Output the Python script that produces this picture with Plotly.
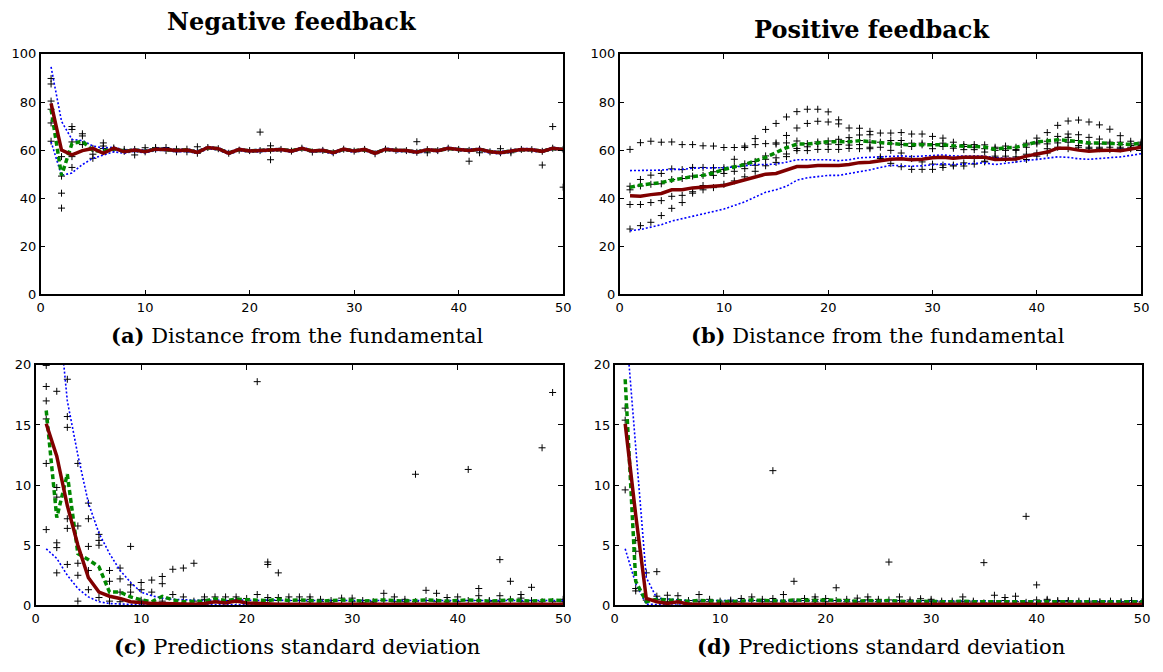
import plotly.graph_objects as go

W, H = 1163, 672
steps = list(range(1, 51))

# ---------------- (a) negative feedback: distance from the fundamental ----------------
mean_a = [79.4, 60.0, 58.0, 59.8, 60.7, 58.7, 60.8, 59.3, 60.0, 59.3,
          60.4, 60.3, 59.8, 60.0, 59.1, 61.1, 60.6, 58.7, 60.3, 59.6,
          59.8, 60.2, 60.3, 59.6, 60.8, 59.6, 59.9, 58.9, 60.4, 59.6,
          60.3, 58.7, 60.4, 59.9, 59.8, 59.1, 60.2, 59.8, 60.8, 60.3,
          59.9, 60.4, 59.3, 58.9, 59.6, 60.3, 60.2, 59.5, 60.8, 60.3]
median_a = [77.0, 49.5, 62.7, 63.7, 59.8, 59.5, 60.6, 59.5, 60.1, 59.4,
            60.5, 60.2, 59.9, 60.1, 59.2, 61.0, 60.6, 58.8, 60.2, 59.7,
            59.9, 60.1, 60.3, 59.7, 60.7, 59.7, 59.9, 59.0, 60.3, 59.7,
            60.2, 58.8, 60.3, 59.9, 59.8, 59.2, 60.1, 59.8, 60.7, 60.3,
            59.9, 60.3, 59.4, 59.0, 59.6, 60.2, 60.2, 59.5, 60.7, 60.3]
upper_a = [94.6, 72.0, 64.4, 64.0, 61.7, 60.9, 61.2, 60.0, 60.5, 60.0,
           60.9, 60.8, 60.3, 60.5, 59.7, 61.5, 61.0, 59.3, 60.7, 60.1,
           60.3, 60.6, 60.7, 60.0, 61.2, 60.0, 60.3, 59.4, 60.8, 60.0,
           60.7, 59.2, 60.8, 60.3, 60.2, 59.6, 60.6, 60.2, 61.2, 60.7,
           60.4, 60.8, 59.8, 59.4, 60.0, 60.7, 60.6, 59.9, 61.2, 60.7]
lower_a = [63.5, 49.5, 50.5, 54.0, 56.6, 58.0, 59.3, 58.7, 59.5, 58.8,
           59.9, 59.8, 59.3, 59.5, 58.6, 60.6, 60.1, 58.2, 59.8, 59.1,
           59.3, 59.7, 59.8, 59.1, 60.3, 59.1, 59.4, 58.4, 59.9, 59.1,
           59.8, 58.2, 59.9, 59.4, 59.3, 58.6, 59.7, 59.3, 60.3, 59.8,
           59.4, 59.9, 58.8, 58.4, 59.1, 59.8, 59.7, 59.0, 60.3, 59.8]
runs_a = [[89.8, 87.5, 80.4, 77.0, 71.3, 63.7], [57.3, 49.2, 42.1, 35.9],
          [69.8, 68.6, 63.4, 57.3, 52.8], [66.8, 65.9, 62.3], [60.7, 58.3, 56.6],
          [63.0, 61.7, 60.7], [60.9, 60.4], [60.3, 59.5], [60.3, 58.0], [61.0, 59.3],
          [61.1, 60.4], [61.1, 59.8], [60.4, 59.3], [60.4, 59.3], [61.4, 58.7],
          [61.1], [60.6], [58.7], [60.0], [59.8],
          [67.5, 59.8], [61.8, 60.0, 56.0], [60.3], [59.6], [60.8],
          [59.2], [59.9], [58.9], [60.4], [59.6],
          [60.3], [58.5], [60.4], [59.9], [59.8],
          [63.5, 59.1], [58.9, 60.2], [59.8], [60.8], [60.3],
          [55.4, 59.9], [58.9, 60.4], [59.3], [60.6, 58.9], [58.9, 59.6],
          [60.3], [60.2], [53.8, 59.5], [69.8, 60.8], [60.3, 44.6]]

# ---------------- (b) positive feedback: distance from the fundamental ----------------
mean_b = [41.0, 40.8, 41.5, 42.0, 43.5, 43.5, 44.3, 44.5, 45.0, 45.3,
          46.5, 47.5, 49.0, 50.0, 50.3, 51.8, 53.2, 53.2, 53.6, 53.6,
          53.6, 54.0, 54.8, 55.0, 55.6, 56.2, 56.4, 56.0, 56.2, 56.8,
          57.0, 56.6, 57.0, 57.0, 57.0, 56.1, 56.3, 56.3, 57.5, 58.5,
          59.2, 60.8, 60.8, 60.0, 59.5, 59.8, 60.0, 59.7, 60.3, 61.2]
median_b = [44.5, 45.5, 46.0, 46.5, 47.5, 48.3, 49.0, 49.5, 50.5, 52.0,
            53.0, 54.0, 55.5, 57.0, 59.0, 61.0, 62.5, 62.5, 63.0, 63.5,
            63.5, 63.5, 63.9, 63.5, 63.0, 62.5, 62.4, 62.2, 62.2, 62.3,
            62.2, 61.8, 61.8, 61.5, 61.3, 60.3, 61.0, 61.2, 62.2, 63.4,
            63.8, 64.3, 64.0, 63.6, 63.0, 63.0, 62.9, 62.6, 62.4, 62.9]
upper_b = [51.5, 51.5, 51.5, 51.7, 52.0, 52.0, 52.5, 52.5, 52.7, 52.7,
           53.0, 53.5, 54.0, 54.0, 54.2, 55.0, 56.0, 56.0, 56.0, 56.0,
           55.6, 56.0, 56.8, 57.0, 57.5, 57.7, 57.6, 57.3, 57.5, 57.5,
           58.0, 57.6, 57.5, 57.5, 57.5, 56.8, 56.7, 56.6, 57.5, 58.3,
           59.5, 60.8, 60.6, 60.0, 59.7, 59.8, 60.0, 60.0, 60.5, 61.0]
lower_b = [26.5, 27.0, 28.0, 29.0, 30.5, 31.5, 32.5, 33.5, 34.5, 35.5,
           37.0, 38.5, 40.5, 42.5, 43.5, 45.0, 47.5, 48.5, 49.0, 49.5,
           49.5, 50.3, 50.8, 51.8, 52.8, 53.7, 53.5, 53.3, 53.5, 53.8,
           54.3, 54.0, 54.3, 54.5, 54.7, 54.0, 54.5, 55.0, 55.6, 56.1,
           56.6, 57.2, 57.0, 56.4, 56.2, 56.5, 56.8, 57.2, 57.8, 58.5]
runs_b = [[60.3, 45.0, 43.5, 37.4, 27.2], [63.1, 47.8, 45.1, 37.4, 28.6],
          [63.7, 49.6, 45.8, 38.2, 30.0], [63.3, 50.3, 46.0, 39.0, 32.8],
          [63.4, 52.2, 47.8, 40.8, 35.8], [62.3, 51.9, 48.2, 41.2, 38.2],
          [62.3, 52.8, 49.2, 42.7, 42.1], [61.8, 52.8, 49.5, 45.3, 43.5],
          [61.7, 52.7, 51.0, 49.5, 44.4], [61.1, 52.7, 51.9, 50.3, 45.8],
          [61.1, 56.2, 53.3, 51.2, 47.2], [61.7, 61.1, 54.3, 52.3, 48.9],
          [64.8, 62.3, 55.3, 53.7, 51.2], [68.6, 62.7, 57.6, 56.2, 53.5],
          [71.1, 63.0, 62.5, 56.8, 54.9], [73.8, 66.1, 63.0, 58.4, 57.3],
          [76.0, 69.2, 63.8, 60.7, 59.8], [77.0, 71.1, 62.7, 61.4, 59.8],
          [77.0, 72.0, 63.4, 62.7, 60.3], [75.9, 71.7, 63.8, 62.5, 60.3],
          [72.6, 70.9, 64.5, 62.3, 60.3], [69.2, 65.2, 63.6, 62.1, 60.7],
          [69.1, 66.3, 64.0, 62.3, 60.6], [67.8, 66.4, 63.3, 61.2, 60.6],
          [67.1, 63.3, 61.2, 57.2, 56.5], [67.1, 64.0, 62.6, 59.9, 54.5],
          [67.3, 64.0, 62.3, 58.8, 53.1], [66.7, 62.9, 61.5, 56.5, 52.0],
          [66.7, 62.9, 62.2, 55.1, 52.0], [65.7, 62.3, 60.6, 54.2, 52.0],
          [65.0, 62.9, 61.5, 53.8, 52.8], [63.3, 61.5, 60.8, 53.8, 53.4],
          [62.3, 61.5, 60.2, 54.7, 53.4], [62.3, 61.2, 60.2, 56.5, 54.2],
          [62.2, 60.6, 59.2, 55.1, 55.4], [61.2, 60.6, 59.9, 57.5, 56.9],
          [61.7, 60.6, 59.9, 57.5, 56.5], [61.2, 60.3, 59.9, 57.2, 56.1],
          [62.9, 62.2, 61.2, 58.3, 56.1], [65.0, 63.3, 62.6, 58.8, 57.5],
          [67.3, 63.7, 62.6, 60.6, 58.8], [70.3, 65.7, 64.2, 63.0, 61.2],
          [72.1, 66.7, 65.3, 63.3, 60.6], [72.5, 66.4, 64.0, 61.9, 61.2],
          [71.7, 65.3, 62.6, 61.2, 60.6], [70.5, 64.6, 62.6, 61.2, 60.6],
          [68.7, 63.3, 62.6, 61.2, 60.2], [66.0, 63.3, 62.3, 61.2, 60.6],
          [63.7, 62.6, 61.9, 61.2, 60.6], [63.3, 62.6, 62.2, 61.9, 61.2]]

# ---------------- (c) negative feedback: predictions standard deviation ----------------
mean_c = [15.1, 12.4, 8.3, 5.0, 2.3, 1.1, 0.76, 0.57, 0.3, 0.2,
          0.15, 0.15, 0.12, 0.1, 0.1, 0.15, 0.3, 0.2, 0.35, 0.2,
          0.15, 0.1, 0.1, 0.1, 0.1, 0.12, 0.1, 0.1, 0.1, 0.1,
          0.1, 0.1, 0.12, 0.1, 0.1, 0.1, 0.1, 0.1, 0.1, 0.1,
          0.1, 0.1, 0.1, 0.1, 0.1, 0.1, 0.1, 0.1, 0.1, 0.1]
median_c = [16.2, 7.3, 10.9, 4.3, 3.8, 3.2, 1.1, 1.1, 0.7, 0.45,
            0.3, 0.75, 0.45, 0.3, 0.35, 0.35, 0.55, 0.4, 0.5, 0.45,
            0.4, 0.4, 0.5, 0.4, 0.45, 0.4, 0.35, 0.4, 0.45, 0.4,
            0.35, 0.4, 0.45, 0.4, 0.35, 0.4, 0.45, 0.4, 0.35, 0.4,
            0.45, 0.4, 0.35, 0.4, 0.45, 0.4, 0.35, 0.4, 0.45, 0.4]
upper_c = [40.0, 26.0, 17.0, 12.5, 8.5, 6.0, 4.3, 2.9, 1.9, 1.1,
           0.8, 0.6, 0.5, 0.45, 0.4, 0.4, 0.45, 0.4, 0.45, 0.4,
           0.4, 0.45, 0.4, 0.4, 0.4, 0.4, 0.4, 0.4, 0.4, 0.4,
           0.4, 0.4, 0.4, 0.4, 0.4, 0.4, 0.4, 0.4, 0.4, 0.4,
           0.4, 0.4, 0.4, 0.4, 0.4, 0.4, 0.4, 0.4, 0.4, 0.4]
lower_c = [4.7, 3.9, 2.5, 1.4, 0.7, 0.3, 0.15, 0.1, 0.08, 0.05,
           0.05, 0.05, 0.05, 0.05, 0.05, 0.05, 0.05, 0.05, 0.05, 0.05,
           0.05, 0.05, 0.05, 0.05, 0.05, 0.05, 0.05, 0.05, 0.05, 0.05,
           0.05, 0.05, 0.05, 0.05, 0.05, 0.05, 0.05, 0.05, 0.05, 0.05,
           0.05, 0.05, 0.05, 0.05, 0.05, 0.05, 0.05, 0.05, 0.05, 0.05]
runs_c = [[19.95, 18.2, 17.0, 15.5, 11.8, 6.3], [17.8, 9.8, 9.0, 5.2, 4.8, 2.7],
          [18.8, 15.7, 14.8, 7.2, 6.4, 3.4], [11.8, 6.6, 3.5, 2.5, 0.35],
          [8.5, 7.2, 4.9, 2.9, 1.3], [5.9, 5.4, 5.0, 0.65],
          [2.9, 2.0, 0.35], [3.1, 2.2, 1.1, 0.3], [4.9, 1.7, 1.1], [1.9, 1.3, 0.43],
          [2.1, 1.1], [2.4, 1.8, 0.35], [3.0, 0.9], [3.1, 0.7], [3.5, 0.35],
          [0.7, 0.5], [0.7], [0.7, 0.4], [0.7, 0.43], [0.57],
          [18.6, 0.9], [3.6, 3.4, 0.65, 0.4], [2.7, 0.65, 0.4], [0.7, 0.4], [0.7, 0.4],
          [0.7, 0.5, 0.3], [0.5, 0.3], [0.4, 0.2], [0.6, 0.4], [0.6, 0.3],
          [0.4, 0.2], [0.3, 0.2], [1.0, 0.4], [0.7, 0.3], [0.5, 0.3],
          [10.9, 0.3], [1.25, 0.4], [1.0, 0.3], [0.65, 0.3], [0.7, 0.3],
          [11.3, 0.4], [1.4, 0.8, 0.4], [0.4, 0.3], [3.8, 0.8, 0.3], [2.0, 0.5],
          [0.9, 0.6, 0.3], [1.5, 0.4], [13.1, 0.3], [17.7, 0.3], [0.5, 0.3]]

# ---------------- (d) positive feedback: predictions standard deviation ----------------
mean_d = [15.1, 7.5, 0.57, 0.3, 0.15, 0.3, 0.1, 0.1, 0.1, 0.1,
          0.1, 0.1, 0.1, 0.1, 0.1, 0.1, 0.12, 0.1, 0.1, 0.1,
          0.08, 0.08, 0.08, 0.08, 0.08, 0.08, 0.08, 0.08, 0.08, 0.08,
          0.08, 0.08, 0.08, 0.08, 0.08, 0.08, 0.08, 0.08, 0.08, 0.08,
          0.08, 0.08, 0.08, 0.08, 0.08, 0.08, 0.08, 0.08, 0.08, 0.08]
median_d = [18.8, 2.0, 0.3, 0.5, 0.45, 0.4, 0.35, 0.4, 0.35, 0.35,
            0.3, 0.35, 0.45, 0.4, 0.35, 0.35, 0.45, 0.4, 0.4, 0.45,
            0.4, 0.4, 0.35, 0.4, 0.35, 0.4, 0.35, 0.3, 0.35, 0.3,
            0.3, 0.3, 0.35, 0.3, 0.3, 0.3, 0.35, 0.3, 0.3, 0.35,
            0.35, 0.3, 0.3, 0.3, 0.3, 0.3, 0.3, 0.3, 0.3, 0.3]
upper_d = [24.0, 13.0, 2.3, 0.6, 0.5, 0.45, 0.4, 0.4, 0.4, 0.4,
           0.4, 0.4, 0.4, 0.4, 0.4, 0.4, 0.4, 0.4, 0.4, 0.4,
           0.35, 0.35, 0.35, 0.35, 0.35, 0.35, 0.35, 0.35, 0.35, 0.35,
           0.35, 0.35, 0.35, 0.35, 0.35, 0.35, 0.35, 0.35, 0.35, 0.35,
           0.35, 0.35, 0.35, 0.35, 0.35, 0.35, 0.35, 0.35, 0.35, 0.35]
lower_d = [4.7, 1.8, 0.1, 0.05, 0.03, 0.03, 0.03, 0.03, 0.03, 0.03,
           0.03, 0.03, 0.03, 0.03, 0.03, 0.03, 0.03, 0.03, 0.03, 0.03,
           0.03, 0.03, 0.03, 0.03, 0.03, 0.03, 0.03, 0.03, 0.03, 0.03,
           0.03, 0.03, 0.03, 0.03, 0.03, 0.03, 0.03, 0.03, 0.03, 0.03,
           0.03, 0.03, 0.03, 0.03, 0.03, 0.03, 0.03, 0.03, 0.03, 0.03]
runs_d = [[16.4, 15.4, 9.6], [5.4, 4.5, 1.4, 1.2], [2.7, 0.43], [2.8, 0.76, 0.5],
          [0.84, 0.3], [0.8, 0.3], [0.4, 0.2], [0.9, 0.3], [0.5, 0.3], [0.35, 0.2],
          [0.43, 0.3], [0.57, 0.3], [0.7, 0.4], [0.5, 0.3], [11.2, 0.57, 0.3],
          [0.9, 0.3], [2.0, 0.3], [0.57, 0.4], [0.7, 0.5, 0.3], [0.57, 0.3],
          [1.46, 0.4], [0.5, 0.3], [0.6, 0.3], [0.7, 0.45], [0.5, 0.3],
          [3.6, 0.45], [0.7, 0.4], [0.45, 0.3], [0.55, 0.4], [0.5, 0.35],
          [0.35, 0.2], [0.35, 0.2], [0.7, 0.3], [0.35, 0.2], [3.55, 0.2],
          [0.84, 0.2], [0.65, 0.4], [0.76, 0.3], [7.4, 0.25], [1.7, 0.45],
          [0.5, 0.4], [0.4, 0.3], [0.4, 0.3], [0.35, 0.2], [0.35, 0.2],
          [0.3, 0.2], [0.35, 0.2], [0.3, 0.2], [0.4, 0.2], [0.3, 0.2]]

titles = ["Negative feedback", "Positive feedback"]
captions = [("(a)", "Distance from the fundamental"),
            ("(b)", "Distance from the fundamental"),
            ("(c)", "Predictions standard deviation"),
            ("(d)", "Predictions standard deviation")]

RED, GREEN, BLUE = "#800000", "#008800", "#0000ff"


def px_x(a, b):
    return [a / W, b / W]


def px_y(top, bottom):
    return [1 - bottom / H, 1 - top / H]


panels = [
    dict(mean=mean_a, median=median_a, upper=upper_a, lower=lower_a, runs=runs_a,
         xd=px_x(37, 565), yd=px_y(48, 294), yr=[0, 100], dt=20),
    dict(mean=mean_b, median=median_b, upper=upper_b, lower=lower_b, runs=runs_b,
         xd=px_x(622, 1149), yd=px_y(48, 294), yr=[0, 100], dt=20),
    dict(mean=mean_c, median=median_c, upper=upper_c, lower=lower_c, runs=runs_c,
         xd=px_x(32, 565), yd=px_y(366, 612), yr=[0, 20], dt=5),
    dict(mean=mean_d, median=median_d, upper=upper_d, lower=lower_d, runs=runs_d,
         xd=px_x(617, 1150), yd=px_y(366, 612), yr=[0, 20], dt=5),
]

fig = go.Figure()
tick_font = dict(family="DejaVu Sans", size=13, color="black")

for i, p in enumerate(panels):
    n = "" if i == 0 else str(i + 1)
    xa, ya = "x" + n, "y" + n
    rx, ry = [], []
    for step, vals in zip(steps, p["runs"]):
        for v in vals:
            rx.append(step)
            ry.append(v)
    fig.add_trace(go.Scatter(x=rx, y=ry, mode="markers", xaxis=xa, yaxis=ya,
                             marker=dict(symbol="cross-thin", size=5, color="black",
                                         line=dict(width=1, color="black")),
                             showlegend=False))
    for key in ("upper", "lower"):
        fig.add_trace(go.Scatter(x=steps, y=p[key], mode="lines", xaxis=xa, yaxis=ya,
                                 line=dict(color=BLUE, width=1.6, dash="2px,2px"),
                                 showlegend=False))
    fig.add_trace(go.Scatter(x=steps, y=p["median"], mode="lines", xaxis=xa, yaxis=ya,
                             line=dict(color=GREEN, width=3.5, dash="5px,3px"),
                             showlegend=False))
    fig.add_trace(go.Scatter(x=steps, y=p["mean"], mode="lines", xaxis=xa, yaxis=ya,
                             line=dict(color=RED, width=3.5), showlegend=False))

    common = dict(showgrid=False, zeroline=False, showline=True, linecolor="black",
                  linewidth=1.5, mirror="ticks", ticks="inside", ticklen=5,
                  tickwidth=1, tickcolor="black", tickfont=tick_font)
    fig.update_layout(**{
        "xaxis" + n: dict(domain=p["xd"], range=[0, 50], dtick=10, tick0=0,
                          anchor=ya, **common),
        "yaxis" + n: dict(domain=p["yd"], range=p["yr"], dtick=p["dt"], tick0=0,
                          anchor=xa, **common),
    })

serif_bold = dict(family="DejaVu Serif", size=24, color="black")
serif = dict(family="DejaVu Serif", size=21, color="black")

annots = [
    dict(text="<b>%s</b>" % titles[0], x=291 / W, y=1 - 15 / H, font=serif_bold),
    dict(text="<b>%s</b>" % titles[1], x=877 / W, y=1 - 23 / H, font=serif_bold),
]
cap_pos = [(297, 336), (883, 336), (296, 654), (886, 654)]
for (lab, txt), (cx, cy) in zip(captions, cap_pos):
    annots.append(dict(text="<b>%s</b> %s" % (lab, txt), x=cx / W, y=1 - cy / H,
                       font=serif))
for a in annots:
    a.update(xref="paper", yref="paper", showarrow=False,
             xanchor="center", yanchor="middle")

fig.update_layout(width=W, height=H, margin=dict(l=0, r=0, t=0, b=0),
                  paper_bgcolor="white", plot_bgcolor="white",
                  annotations=annots, showlegend=False)

fig.write_html("out.html")
